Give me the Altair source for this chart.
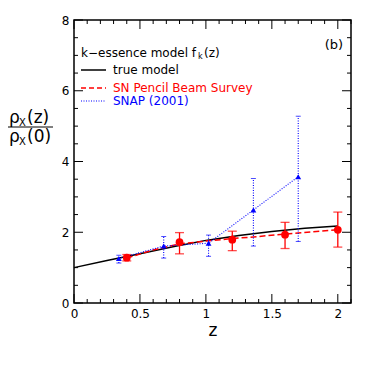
import altair as alt
import pandas as pd

# ---- data ----
true_z = [0.0, 0.25, 0.5, 0.75, 1.0, 1.25, 1.5, 1.75, 2.0]
true_rho = [1.0, 1.2, 1.39, 1.59, 1.77, 1.91, 2.02, 2.11, 2.18]

fit_z = [0.4, 0.6, 0.8, 1.0, 1.2, 1.4, 1.6, 1.8, 2.0]
fit_rho = [1.27, 1.5, 1.67, 1.75, 1.82, 1.88, 1.95, 2.01, 2.07]

sn_z = [0.4, 0.8, 1.2, 1.6, 2.0]
sn_rho = [1.28, 1.72, 1.79, 1.93, 2.07]
sn_lo = [1.19, 1.39, 1.48, 1.54, 1.58]
sn_hi = [1.37, 1.99, 2.03, 2.28, 2.57]

snap_z = [0.34, 0.68, 1.02, 1.36, 1.70]
snap_rho = [1.26, 1.61, 1.69, 2.63, 3.57]
snap_lo = [1.13, 1.27, 1.32, 1.61, 1.74]
snap_hi = [1.35, 1.88, 1.92, 3.52, 5.28]

x_major = [0, 0.5, 1, 1.5, 2]
x_minor = [0.1, 0.2, 0.3, 0.4, 0.6, 0.7, 0.8, 0.9, 1.1, 1.2, 1.3, 1.4,
           1.6, 1.7, 1.8, 1.9, 2.1]
y_major = [0, 2, 4, 6, 8]
y_minor = [0.5, 1, 1.5, 2.5, 3, 3.5, 4.5, 5, 5.5, 6.5, 7, 7.5]

W, H = 277, 283
FONT = "DejaVu Sans"

xs = alt.Scale(domain=[0, 2.1], nice=False, zero=False)
ys = alt.Scale(domain=[0, 8], nice=False, zero=False)

XA = alt.Axis(values=x_major, title="z", ticks=False, domain=False, grid=False,
              labelExpr="'' + datum.value", labelPadding=5, titlePadding=3,
              labelFlush=False,
              labelFontSize=12, titleFontSize=17, labelFont=FONT, titleFont=FONT,
              titleFontWeight="normal", labelColor="black", titleColor="black")
YA = alt.Axis(values=y_major, title=None, ticks=False, domain=False, grid=False,
              labelFlush=False,
              labelPadding=5, labelFontSize=12, labelFont=FONT, labelColor="black")

def X(f):
    return alt.X(f, scale=xs, axis=XA)

def Y(f):
    return alt.Y(f, scale=ys, axis=YA)

true_df = pd.DataFrame({"z": true_z, "r": true_rho})
fit_df = pd.DataFrame({"z": fit_z, "r": fit_rho})
sn_df = pd.DataFrame({"z": sn_z, "r": sn_rho, "lo": sn_lo, "hi": sn_hi})
snap_df = pd.DataFrame({"z": snap_z, "r": snap_rho, "lo": snap_lo, "hi": snap_hi})
one = pd.DataFrame({"a": [0]})

RED = "#ff0000"
BLUE = "#0000ff"

true_line = alt.Chart(true_df).mark_line(color="black", strokeWidth=1.5).encode(
    x=X("z:Q"), y=Y("r:Q"))
fit_line = alt.Chart(fit_df).mark_line(color=RED, strokeWidth=1.5, strokeDash=[6, 3]).encode(
    x=X("z:Q"), y=Y("r:Q"))
snap_line = alt.Chart(snap_df).mark_line(color=BLUE, strokeWidth=1.1, strokeDash=[1, 1.5]).encode(
    x=X("z:Q"), y=Y("r:Q"))

snap_err = alt.Chart(snap_df).mark_rule(color=BLUE, strokeWidth=1.1, strokeDash=[1, 1.5]).encode(
    x=X("z:Q"), y=Y("lo:Q"), y2="hi:Q")
snap_cap_lo = alt.Chart(snap_df).mark_tick(color=BLUE, orient="horizontal", size=5, thickness=1).encode(
    x=X("z:Q"), y=Y("lo:Q"))
snap_cap_hi = alt.Chart(snap_df).mark_tick(color=BLUE, orient="horizontal", size=5, thickness=1).encode(
    x=X("z:Q"), y=Y("hi:Q"))
snap_pts = alt.Chart(snap_df).mark_point(shape="triangle-up", filled=True, color=BLUE, size=34, opacity=1).encode(
    x=X("z:Q"), y=Y("r:Q"))

sn_err = alt.Chart(sn_df).mark_rule(color=RED, strokeWidth=1.3).encode(
    x=X("z:Q"), y=Y("lo:Q"), y2="hi:Q")
sn_cap_lo = alt.Chart(sn_df).mark_tick(color=RED, orient="horizontal", size=9, thickness=1.3).encode(
    x=X("z:Q"), y=Y("lo:Q"))
sn_cap_hi = alt.Chart(sn_df).mark_tick(color=RED, orient="horizontal", size=9, thickness=1.3).encode(
    x=X("z:Q"), y=Y("hi:Q"))
sn_pts = alt.Chart(sn_df).mark_circle(color=RED, size=60, opacity=1).encode(
    x=X("z:Q"), y=Y("r:Q"))

# ---- inward ticks on all four sides ----
def xticks(vals, length):
    d = pd.DataFrame({"z": vals})
    bot = alt.Chart(d).mark_rule(color="black", strokeWidth=1).encode(
        x=X("z:Q"), y=alt.value(H), y2=alt.value(H - length))
    top = alt.Chart(d).mark_rule(color="black", strokeWidth=1).encode(
        x=X("z:Q"), y=alt.value(0), y2=alt.value(length))
    return [bot, top]

def yticks(vals, length):
    d = pd.DataFrame({"r": vals})
    left = alt.Chart(d).mark_rule(color="black", strokeWidth=1).encode(
        y=Y("r:Q"), x=alt.value(0), x2=alt.value(length))
    right = alt.Chart(d).mark_rule(color="black", strokeWidth=1).encode(
        y=Y("r:Q"), x=alt.value(W), x2=alt.value(W - length))
    return [left, right]

ticks = xticks(x_major, 9) + xticks(x_minor, 4) + yticks(y_major, 9) + yticks(y_minor, 4)

# ---- annotations (legend, panel label, y title) ----
def txt(s, x, y, size=12, color="black", align="left"):
    return alt.Chart(one).mark_text(font=FONT, fontSize=size, color=color, align=align,
                                    baseline="middle").encode(
        x=alt.value(x), y=alt.value(y), text=alt.value(s))

def seg(x1, x2, y, color, dash=None, sw=1.3):
    kw = dict(color=color, strokeWidth=sw)
    if dash:
        kw["strokeDash"] = dash
    return alt.Chart(one).mark_rule(**kw).encode(
        x=alt.value(x1), x2=alt.value(x2), y=alt.value(y))

ann = [
    txt("k\u2212essence model f", 7, 33),
    txt("k", 124, 37, size=8),
    txt("(z)", 130, 33),
    seg(7, 32, 50, "black", sw=1.5),
    txt("true model", 39, 50),
    seg(7, 32, 68, RED, dash=[5, 3], sw=1.4),
    txt("SN Pencil Beam Survey", 39, 68, color=RED),
    seg(7, 32, 81, BLUE, dash=[1, 1.5], sw=1.1),
    txt("SNAP (2001)", 39, 81, color=BLUE),
    txt("(b)", 260, 25, size=13, align="center"),
    # y-axis title as a fraction
    txt("\u03c1", -65, 98, size=17),
    txt("X", -55, 103, size=10),
    txt("(z)", -47, 98, size=17),
    seg(-66, -21, 107, "black", sw=1),
    txt("\u03c1", -65, 117, size=17),
    txt("X", -55, 122, size=10),
    txt("(0)", -47, 117, size=17),
]

chart = alt.layer(
    true_line, fit_line, snap_line, snap_err, snap_cap_lo, snap_cap_hi, snap_pts,
    sn_err, sn_cap_lo, sn_cap_hi, sn_pts, *ticks, *ann
).properties(
    width=W, height=H,
    autosize=alt.AutoSizeParams(type="none"),
    padding={"left": 66, "top": 12, "right": 10, "bottom": 50},
    background="white",
).configure_view(stroke="black", strokeWidth=1.5)

chart.save("out.html", embed_options={"renderer": "svg", "actions": False})
